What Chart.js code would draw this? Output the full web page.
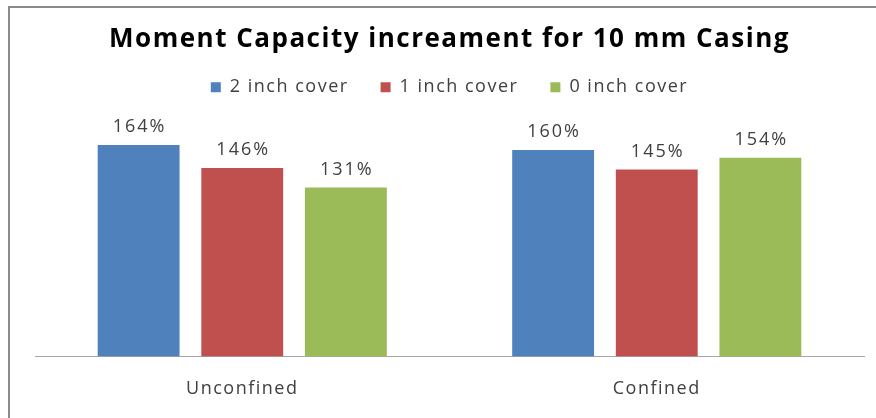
<!DOCTYPE html>
<html>
<head>
<meta charset="utf-8">
<script src="https://cdn.jsdelivr.net/npm/chart.js@4/dist/chart.umd.min.js"></script>
<style>
  html, body { margin: 0; padding: 0; background: #fff; }
  #wrap { position: relative; width: 876px; height: 418px; overflow: hidden; }
  #frame {
    position: absolute; left: 8px; top: 6px; width: 900px; height: 500px;
    border-left: 2px solid #8a8a8a; border-top: 2px solid #8a8a8a;
  }
  #chart { position: absolute; left: 0; top: 0; }
</style>
</head>
<body>
<div id="wrap">
  <div id="frame"></div>
  <canvas id="chart" width="876" height="422"></canvas>
</div>
<script>
// categories and series
const groups = ['Unconfined', 'Confined'];
const cover2 = [1.64, 1.60];
const cover1 = [1.46, 1.45];
const cover0 = [1.31, 1.54];
const seriesNames = ['2 inch cover', '1 inch cover', '0 inch cover'];

const FONT = '"Open Sans", sans-serif';
const pct = v => Math.round(v * 100) + '%';

// wider letter spacing for every text on the canvas
const spacing = {
  id: 'spacing',
  beforeLayout(chart) { chart.ctx.letterSpacing = '1.5px'; },
  beforeDraw(chart) { chart.ctx.letterSpacing = '1.5px'; }
};

// value labels above each bar
const barLabels = {
  id: 'barLabels',
  afterDatasetsDraw(chart) {
    const c = chart.ctx;
    c.save();
    c.font = '18px ' + FONT;
    c.letterSpacing = '2px';
    c.fillStyle = '#404040';
    c.textAlign = 'center';
    c.textBaseline = 'middle';
    chart.data.datasets.forEach((ds, i) => {
      chart.getDatasetMeta(i).data.forEach((bar, j) => {
        c.fillText(pct(ds.data[j]), bar.x + 1, bar.y - 18);
      });
    });
    c.restore();
  }
};

new Chart(document.getElementById('chart'), {
  type: 'bar',
  data: {
    labels: groups,
    datasets: [
      { label: seriesNames[0], data: cover2, backgroundColor: '#4f81bd' },
      { label: seriesNames[1], data: cover1, backgroundColor: '#c0504d' },
      { label: seriesNames[2], data: cover0, backgroundColor: '#9bbb59' }
    ]
  },
  options: {
    responsive: false,
    animation: false,
    categoryPercentage: 0.75,
    barPercentage: 0.79,
    layout: { padding: { left: 35, right: 12, top: 0, bottom: 0 } },
    plugins: {
      title: {
        display: true,
        text: 'Moment Capacity increament for 10 mm Casing',
        color: '#000',
        font: { family: FONT, size: 26, weight: 'bold' },
        padding: { top: 24, bottom: -9 }
      },
      legend: {
        position: 'top',
        labels: {
          boxWidth: 10, boxHeight: 10,
          padding: 32,
          color: '#404040',
          font: { family: FONT, size: 18 }
        }
      },
      tooltip: { enabled: false }
    },
    scales: {
      x: {
        grid: { display: false, drawTicks: false },
        border: { display: true, color: '#a6a6a6', width: 1 },
        ticks: { color: '#404040', padding: 22, font: { family: FONT, size: 18 } }
      },
      y: {
        display: false,
        min: 0,
        max: 1.94
      }
    }
  },
  plugins: [spacing, barLabels]
});
</script>
</body>
</html>
